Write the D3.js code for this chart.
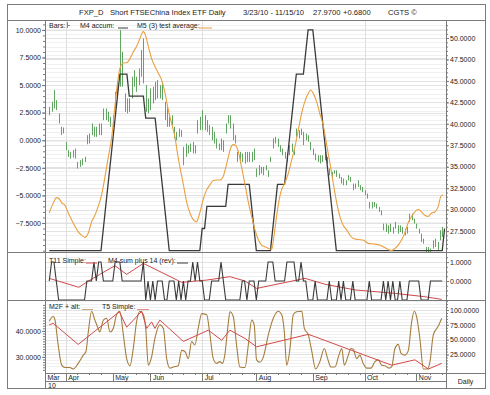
<!DOCTYPE html>
<html>
<head>
<meta charset="utf-8">
<script src="https://cdn.jsdelivr.net/npm/d3@7"></script>
<style>
  body { margin: 0; background: #fff; }
  svg { display: block; }
  text { font-family: "Liberation Sans", Arial, sans-serif; fill: #222; }
</style>
</head>
<body>
<svg width="490" height="395"></svg>
<script>
// ---- data ----
const months = ["Mar", "Apr", "May", "Jun", "Jul", "Aug", "Sep", "Oct", "Nov"];
const monthIdx = [-1.8, 7, 27, 43, 65, 88, 112, 134, 156];
const gridMonths = ["Apr", "Jul", "Oct"];

const barHigh = [41.98,42.57,43.93,42.76,41.21,39.65,39.57,37.90,36.93,36.73,36.93,37.12,35.56,35.76,35.95,36.15,
  38.68,38.87,40.04,39.65,39.65,40.04,40.04,41.79,41.79,41.40,40.82,41.01,43.73,44.90,50.93,48.40,43.54,42.96,42.96,
  45.49,46.26,45.49,46.46,48.60,49.96,44.51,42.96,44.12,44.32,44.90,45.10,44.51,44.90,42.57,42.18,41.21,41.01,39.65,
  39.07,39.45,39.26,37.32,37.70,37.51,37.70,37.90,37.51,40.43,40.82,41.60,41.01,40.43,39.84,39.65,39.07,38.29,37.70,
  38.29,38.09,40.04,41.01,41.01,40.04,38.68,36.73,36.73,36.54,36.73,36.73,36.73,36.73,37.12,34.79,35.17,34.98,34.98,
  35.17,34.59,36.15,38.29,38.48,38.29,37.51,37.12,36.73,36.54,37.51,37.70,37.12,39.45,39.26,39.45,39.07,38.87,38.68,
  37.90,37.12,36.54,36.34,36.34,36.34,36.73,36.15,34.79,34.40,34.59,34.59,34.20,33.81,33.62,33.42,34.01,33.81,33.04,
  33.04,33.42,32.84,32.65,32.26,31.87,30.89,30.89,30.89,30.70,30.31,29.92,28.37,28.37,28.17,28.37,27.98,28.56,28.17,
  28.17,27.98,27.78,27.98,29.53,29.53,28.95,28.37,27.78,27.20,26.61,25.64,25.64,25.45,26.42,26.61,26.23,27.59,27.98];
const barLow = [41.01,41.40,41.79,41.60,40.04,38.68,38.87,36.93,36.15,35.95,36.07,35.95,34.79,34.98,35.17,35.56,
  37.62,37.70,38.68,38.48,38.48,38.68,38.68,40.43,40.43,40.23,39.65,39.65,41.79,43.15,44.32,44.32,41.40,41.21,41.40,
  42.96,44.32,43.73,44.51,45.49,44.71,41.40,41.21,41.60,42.37,42.76,42.96,42.96,42.76,40.43,39.65,39.65,39.84,38.29,
  38.09,38.48,38.48,35.17,36.15,36.54,36.73,36.54,36.54,38.87,39.26,39.26,39.26,39.07,38.68,38.09,37.70,37.12,36.93,
  36.93,36.73,38.87,40.04,39.45,38.09,37.70,35.56,35.37,35.56,35.37,35.56,35.56,35.56,35.76,33.81,34.01,34.20,34.01,
  34.59,33.81,35.56,37.12,37.70,37.32,36.73,36.34,35.95,35.56,36.34,36.73,36.34,38.48,38.29,38.68,37.51,38.09,37.90,
  36.93,36.34,35.76,35.56,35.37,35.56,35.76,35.37,34.01,33.62,34.20,33.81,33.62,33.04,32.84,32.84,33.42,33.23,32.26,
  32.45,32.65,32.26,32.06,31.67,31.28,30.12,30.12,30.31,30.12,29.73,29.34,27.59,27.39,27.20,27.39,27.20,27.78,27.20,
  27.39,27.20,27.00,27.20,28.56,28.75,28.37,27.78,27.20,26.23,26.03,25.06,25.06,25.06,25.45,25.64,25.25,26.42,26.81];

const m4Accum = [-10,-10,-10,-10,-10,-10,-10,-10,-10,-10,-10,-10,-10,-10,-10,-10,-10,-10,-10,-10,-10,-10,-10,
  -8,-6,-4,-2,0,2,4,6,6,6,6,4,4,4,4,4,4,4,2,2,2,2,2,0,-2,-4,-6,-8,
  -10,-10,-10,-10,-10,-10,-10,-10,-10,-10,-10,-10,-10,-10,-8,-8,-6,-6,-6,-6,-6,-6,-6,-6,-6,-4,
  -4,-4,-4,-4,-4,-4,-4,-4,-4,-6,-8,-10,-10,-10,-10,-10,-10,-10,-8,-6,-4,-4,-4,-4,-2,0,2,4,6,6,6,6,8,10,10,10,
  8,6,4,2,0,-2,-4,-6,-8,-10,-10,-10,-10,-10,-10,-10,-10,-10,-10,-10,-10,-10,-10,-10,-10,-10,-10,-10,-10,
  -10,-10,-10,-10,-10,-10,-10,-10,-10,-10,-10,-10,-10,-10,-10,-10,-10,-10,-10,-10,-10,-10,-10,-10,-10,-10,-8];

const testAvg = [[0,-6.6],[1.7,-5.7],[3.1,-5.2],[4.2,-5.3],[5.2,-5.65],[6.7,-5.9],[8.1,-6.6],[9.5,-7.2],[10.9,-7.8],
  [12.3,-8.3],[13.7,-8.6],[15.2,-8.8],[16.6,-8.4],[18,-7.4],[19.4,-6.8],[20.8,-6.0],[22.2,-5.0],[23.7,-3.3],[25.1,-1.5],
  [26.5,0.2],[27.9,3.05],[28.9,5.0],[30,6.5],[31.4,7.0],[33.1,7.05],[34.3,7.4],[35.7,8.0],[37.1,8.5],[38.5,9.2],
  [39.9,9.85],[41.1,9.4],[42.1,8.5],[43.5,7.4],[44.9,6.7],[46.3,6.1],[47.7,5.5],[49.1,4.4],[50.3,3.05],[51.3,2.1],
  [52.4,1.2],[53.4,0.3],[54.5,-1.2],[55.5,-2.4],[56.9,-3.9],[58.4,-5.6],[59.8,-6.6],[61.2,-7.2],[62.6,-7.4],[63.7,-6.8],
  [65.4,-5.4],[66.9,-4.5],[68.3,-4.05],[69.7,-3.65],[71.1,-3.6],[72.5,-3.6],[73.9,-3.3],[75.1,-2.4],[76.1,-1.5],
  [77.1,-0.7],[78.2,-0.4],[79.3,-0.5],[80.3,-1.0],[81.7,-2.4],[83.1,-3.9],[84.6,-5.6],[86,-6.9],[87.4,-8.1],[88.8,-9.0],
  [90.2,-9.5],[91.6,-9.65],[93.1,-9.8],[94.5,-9.9],[95.5,-8.7],[96.6,-6.9],[97.7,-5.4],[98.7,-4.5],[100.1,-3.9],
  [101.6,-3.0],[103,-1.8],[104.4,-0.6],[105.8,0.9],[107.2,2.4],[108.6,3.5],[110.1,4.25],[111,4.55],[112.2,4.25],
  [113.6,3.5],[115,2.4],[116.4,1.4],[117.8,-0.3],[119.3,-2.1],[120.7,-3.9],[122.1,-5.6],[123.5,-6.9],[124.9,-7.7],
  [126.3,-8.1],[127.8,-8.6],[129.2,-8.9],[131.3,-9.0],[133.4,-9.05],[135.6,-9.35],[137.7,-9.4],[140.5,-9.5],
  [141.9,-9.65],[144,-9.9],[145.5,-10.0],[146.9,-9.8],[148.3,-9.5],[149.7,-9.05],[151.1,-8.4],[152.5,-7.5],[154,-6.9],
  [155.4,-6.5],[156.8,-6.25],[158.2,-6.5],[159.6,-6.8],[161,-6.9],[162.5,-6.6],[163.9,-6.5],[165.3,-6.0],[166.4,-5.1],
  [167.4,-4.95]];

const m4Sum = [0,1,1,0,-1,-1,-1,-1,-1,-1,-1,-1,-1,-1,-1,-1,0,0,0,1,0,1,1,0,0,0,0,0,1,1,1,0,0,0,0,0,0,0,0,0,
  1,-1,0,-1,0,-1,0,0,0,-1,-1,0,0,0,-1,0,-1,0,-1,0,0,1,0,1,0,0,-1,-1,-1,0,0,0,0,1,0,-1,-1,-1,-1,-1,
  -1,-1,0,0,-1,0,0,0,-1,0,0,0,0,1,1,1,0,0,0,0,0,1,1,1,1,0,0,1,0,0,-1,-1,-1,0,-1,-1,-1,-1,-1,0,
  -1,-1,-1,0,-1,0,-1,-1,-1,0,-1,-1,-1,-1,-1,-1,0,-1,-1,-1,-1,-1,0,-1,0,-1,0,-1,-1,0,-1,-1,-1,0,0,0,0,0,
  -1,-1,-1,-1,0,0,0,0,0,0];
const t11 = [[0,0.14],[12.6,-0.33],[16.3,-0.03],[21.5,0.35],[27.9,0.81],[32.9,0.35],[40,0.93],[56.3,-0.07],
  [66.9,0.05],[76.8,0.23],[83.2,0],[88.1,-0.39],[108.7,0.14],[117.2,-0.17],[130,-0.47],[147,-0.65],[159.7,-0.83],
  [166.8,-0.97]];

const m2f = [[0,81],[1.7,89],[2.4,84],[3.8,41],[5.3,7],[6.7,3],[8.8,3],[10.2,0.5],[12.3,10],[14.5,24],[15.6,30],
  [16.6,63],[18,98],[19.4,83],[20.8,69],[21.5,63],[23,83],[24.4,86],[25.8,63],[27.2,69],[28.6,92],[30,98],[31.5,58],
  [32.9,18],[34.3,6],[35.7,35],[37.1,80],[38.5,98],[40,92],[41,69],[42.1,7],[43.5,21],[44.9,52],[47,75],[48.5,69],
  [49.9,18],[51.3,2],[52.8,4],[54.8,6],[56.3,32],[57.7,30],[59.1,18],[60.5,47],[61.9,41],[63.3,69],[64.8,94],
  [66.9,92],[68.3,58],[69.7,18],[71.1,10],[72.5,13],[73.6,10],[74.6,24],[76,75],[76.8,97],[78.2,89],[79.6,41],
  [81,4],[83.2,3],[84.6,41],[86,83],[87.1,75],[88.1,16],[89.5,12],[91,21],[93.1,58],[95.2,86],[97.3,98],[98.8,92],
  [99.9,63],[100.9,7],[102.3,35],[103.7,92],[105.1,97],[107.3,98],[108.4,69],[110.1,58],[111.5,32],[113.2,0.5],
  [115,13],[116.9,35],[118.3,18],[119.7,4],[121.4,4],[123.1,24],[124.3,35],[125.4,7],[127.1,24],[128.2,35],
  [129.2,34],[130.6,18],[132,24],[133.4,10],[134.9,2],[136.7,2],[138.4,13],[139.8,16],[141.3,7],[142.7,6],[144.4,2],
  [145.5,4],[146.9,35],[148.3,42],[149.5,27],[151.2,24],[152.6,32],[154,80],[155.1,98],[156.1,89],[157.5,52],
  [159,0.5],[160.8,0.5],[161.8,13],[163.2,58],[164.7,69],[165.6,75],[166.8,86]];
const t5 = [[0,75],[1.7,77.5],[12.3,42],[29.8,97],[32.9,71],[39.3,98],[41.4,69],[43.5,80],[44.9,69],[47,83],
  [57,47],[67.6,66],[73.3,49],[76.8,66],[83.2,52],[88.1,38],[110.1,59],[112.9,55],[145.5,7],[155.4,16],[161.1,0.5],
  [166.8,10]];

const leftTicks1 = [-7.5, -5, -2.5, 0, 2.5, 5, 7.5, 10];
const rightTicks1 = [27.5, 30, 32.5, 35, 37.5, 40, 42.5, 45, 47.5, 50];
const rightTicks2 = [0, 1];
const leftTicks3 = [30, 40];
const rightTicks3 = [25, 50, 75, 100];

const titleParts = [["FXP_D", 79], ["Short FTSEChina Index ETF Daily", 110], ["3/23/10 - 11/15/10", 243],
  ["27.9700", 313], ["+0.6800", 343], ["CGTS \u00a9", 388]];

// ---- layout ----
const svg = d3.select("svg");
const frameL = 7, frameT = 4, frameR = 485, frameB = 388;
const plotL = 45, plotR = 446;
const mainTop = 20, mainBot = 252, p2Bot = 300, p3Bot = 373, monthBot = 381;
const fmt = d3.format(".4f");
const lineCol = "#7a7a7a";
const barCol = "#62a562";

const x = d3.scaleLinear().domain([-1.8, 168.6]).range([plotL, plotR]);
const yL = d3.scaleLinear().domain([-10.13, 10.9]).range([mainBot, mainTop]);
const yR = d3.scaleLinear().domain([25.06, 52.1]).range([mainBot, mainTop]);
const y2 = d3.scaleLinear().domain([-1, 1.53]).range([p2Bot, mainBot]);
const y3R = d3.scaleLinear().domain([-6.2, 116.9]).range([p3Bot, p2Bot]);
const y3L = d3.scaleLinear().domain([23.8, 51.9]).range([p3Bot, p2Bot]);

const defs = svg.append("defs");
function clip(id, y0, y1) {
    defs.append("clipPath").attr("id", id).append("rect")
        .attr("x", plotL).attr("y", y0).attr("width", plotR - plotL).attr("height", y1 - y0);
}
clip("c1", mainTop, mainBot);
clip("c2", mainBot, p2Bot);
clip("c3", p2Bot, p3Bot);

const snap = v => Math.round(v) + 0.5;

// horizontal grid lines
function hgrid(scale, values, color) {
    svg.append("g").selectAll("line").data(values).join("line")
        .attr("x1", plotL).attr("x2", plotR)
        .attr("y1", d => snap(scale(d))).attr("y2", d => snap(scale(d)))
        .attr("stroke", color).attr("stroke-width", 1);
}
hgrid(yR, d3.range(25.5, 52, 0.5), "#f1f1f1");
hgrid(yR, rightTicks1, "#e2e2e2");
hgrid(yL, leftTicks1, "#e2e2e2");
hgrid(y2, d3.range(-0.75, 1.5, 0.25), "#f1f1f1");
hgrid(y2, rightTicks2, "#e2e2e2");
hgrid(y3R, d3.range(5, 116, 5), "#f1f1f1");
hgrid(y3R, rightTicks3, "#e2e2e2");

// vertical quarter grid
svg.append("g").selectAll("line").data(gridMonths).join("line")
    .attr("x1", d => snap(x(monthIdx[months.indexOf(d)])))
    .attr("x2", d => snap(x(monthIdx[months.indexOf(d)])))
    .attr("y1", mainTop).attr("y2", p3Bot)
    .attr("stroke", "#dedede");

// ---- main panel ----
const g1 = svg.append("g").attr("clip-path", "url(#c1)");
g1.append("g").selectAll("line").data(barHigh).join("line")
    .attr("x1", (d, i) => snap(x(i))).attr("x2", (d, i) => snap(x(i)))
    .attr("y1", d => yR(d)).attr("y2", (d, i) => yR(barLow[i]))
    .attr("stroke", barCol).attr("stroke-width", 1);

g1.append("path").datum(m4Accum)
    .attr("fill", "none").attr("stroke", "#3a3a3a").attr("stroke-width", 1.3)
    .attr("d", d3.line().x((d, i) => x(i)).y(d => yL(d)));

g1.append("path").datum(testAvg)
    .attr("fill", "none").attr("stroke", "#e9a040").attr("stroke-width", 1.1)
    .attr("d", d3.line().x(d => x(d[0])).y(d => yL(d[1])).curve(d3.curveMonotoneX));

// ---- panel 2 ----
const g2 = svg.append("g").attr("clip-path", "url(#c2)");
g2.append("path").datum(t11)
    .attr("fill", "none").attr("stroke", "#d24a4a").attr("stroke-width", 1)
    .attr("d", d3.line().x(d => x(d[0])).y(d => y2(d[1])));
g2.append("path").datum(m4Sum)
    .attr("fill", "none").attr("stroke", "#3a3a3a").attr("stroke-width", 1.1)
    .attr("d", d3.line().x((d, i) => x(i)).y(d => y2(d)));

// ---- panel 3 ----
const g3 = svg.append("g").attr("clip-path", "url(#c3)");
g3.append("path").datum(m2f)
    .attr("fill", "none").attr("stroke", "#a57d3e").attr("stroke-width", 1.1)
    .attr("d", d3.line().x(d => x(d[0])).y(d => y3R(d[1])).curve(d3.curveMonotoneX));
g3.append("path").datum(t5)
    .attr("fill", "none").attr("stroke", "#d24a4a").attr("stroke-width", 1)
    .attr("d", d3.line().x(d => x(d[0])).y(d => y3R(d[1])));

// ---- axes ----
function styleAxis(sel) {
    sel.select(".domain").remove();
    sel.selectAll(".tick line").attr("stroke", lineCol);
    sel.selectAll(".tick text").attr("font-size", 7).attr("fill", "#222")
        .style("font-family", "'Liberation Sans', Arial, sans-serif");
}
function yAxis(axisFn, scale, ticks, xpos, minor) {
    if (minor) {
        svg.append("g").attr("transform", `translate(${xpos},0)`)
            .call(axisFn(scale).tickValues(minor).tickSize(2).tickFormat(""))
            .call(styleAxis);
    }
    svg.append("g").attr("transform", `translate(${xpos},0)`)
        .call(axisFn(scale).tickValues(ticks).tickSize(3).tickPadding(1).tickFormat(fmt))
        .call(styleAxis);
}
yAxis(d3.axisLeft, yL, leftTicks1, plotL, d3.range(-10, 10.9, 0.5));
yAxis(d3.axisRight, yR, rightTicks1, plotR, d3.range(25.5, 52, 0.5));
yAxis(d3.axisRight, y2, rightTicks2, plotR, d3.range(-0.75, 1.5, 0.25));
yAxis(d3.axisLeft, y3L, leftTicks3, plotL, d3.range(25, 51, 1));
yAxis(d3.axisRight, y3R, rightTicks3, plotR, d3.range(0, 116, 5));

// ---- frame and separators ----
const frame = svg.append("g").attr("stroke", lineCol).attr("fill", "none");
frame.append("rect").attr("x", frameL + 0.5).attr("y", frameT + 0.5)
    .attr("width", frameR - frameL).attr("height", frameB - frameT);
[[frameL, frameR, mainTop], [frameL, frameR, mainBot], [frameL, frameR, p2Bot],
 [plotL, frameR, p3Bot], [plotL, plotR, monthBot]].forEach(([a, b, yy]) => {
    frame.append("line").attr("x1", a).attr("x2", b).attr("y1", yy + 0.5).attr("y2", yy + 0.5);
});
[plotL, plotR].forEach(xx => {
    frame.append("line").attr("x1", xx + 0.5).attr("x2", xx + 0.5).attr("y1", mainTop).attr("y2", frameB);
});

// x axis months
const xa = svg.append("g");
xa.selectAll("line.m").data(monthIdx).join("line").attr("class", "m")
    .attr("x1", d => snap(x(d))).attr("x2", d => snap(x(d)))
    .attr("y1", p3Bot).attr("y2", monthBot).attr("stroke", lineCol);
xa.selectAll("line.w").data(d3.range(2, 168, 5)).join("line").attr("class", "w")
    .attr("x1", d => snap(x(d))).attr("x2", d => snap(x(d)))
    .attr("y1", p3Bot).attr("y2", p3Bot + 2).attr("stroke", lineCol);
xa.selectAll("text").data(months).join("text")
    .attr("x", (d, i) => Math.max(x(monthIdx[i]), plotL) + 2.5).attr("y", 379.5)
    .attr("font-size", 7).text(d => d);
svg.append("text").attr("x", 48).attr("y", 387.5).attr("font-size", 7).text("10");
svg.append("text").attr("x", (plotR + frameR) / 2).attr("y", 383.5)
    .attr("text-anchor", "middle").attr("font-size", 7).text("Daily");

// ---- title ----
svg.append("g").selectAll("text").data(titleParts).join("text")
    .attr("x", d => d[1]).attr("y", 15).attr("font-size", 7.6).text(d => d[0]);

// ---- legends ----
function legend(items, yy) {
    items.forEach(([label, lx, sx0, sx1, col]) => {
        svg.append("text").attr("x", lx).attr("y", yy).attr("font-size", 7).text(label);
        if (col) {
            svg.append("line").attr("x1", sx0).attr("x2", sx1).attr("y1", yy + 0.5).attr("y2", yy + 0.5)
                .attr("stroke", col).attr("stroke-width", 1);
        }
    });
}
legend([["Bars:", 49], ["M4 accum:", 80, 118, 128, "#3a3a3a"], ["M5 (3) test average:", 137, 199, 212, "#e9a040"]], 27.5);
svg.append("line").attr("x1", 67.5).attr("x2", 67.5).attr("y1", 22).attr("y2", 28).attr("stroke", barCol);
svg.append("line").attr("x1", 68).attr("x2", 70).attr("y1", 25.5).attr("y2", 25.5).attr("stroke", barCol);
legend([["T11 Simple:", 49, 86, 97, "#d24a4a"], ["M4 sum plus 14 (rev):", 108, 177, 188, "#3a3a3a"]], 262.5);
legend([["M2F + alt:", 49, 82, 93, "#c9a87a"], ["T5 Simple:", 102, 137, 149, "#e08a8a"]], 309);
</script>
</body>
</html>
